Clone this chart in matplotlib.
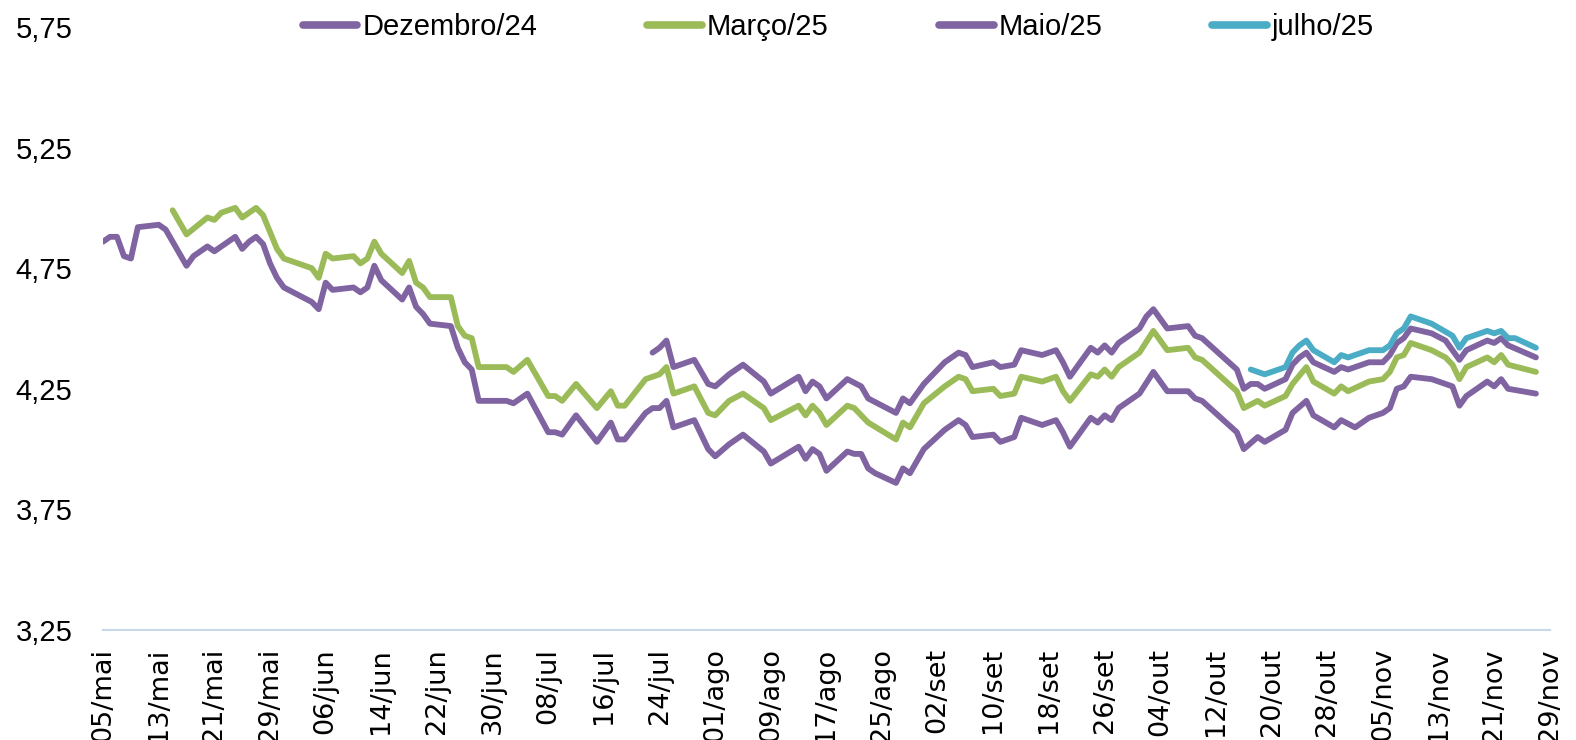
import numpy as np
import pandas as pd
import matplotlib
matplotlib.use('Agg')
import matplotlib.pyplot as plt

YEAR = '2023'

# Dezembro/24 contract
dez24_dates = ['05/05', '06/05', '07/05', '08/05', '09/05', '10/05', '13/05', '14/05', '15/05', '17/05', '18/05',
               '20/05', '21/05', '22/05', '24/05', '25/05', '26/05', '27/05', '28/05', '29/05', '30/05', '31/05',
               '04/06', '05/06', '06/06', '07/06', '10/06', '11/06', '12/06', '13/06', '14/06', '17/06', '18/06',
               '19/06', '20/06', '21/06', '24/06', '25/06', '26/06', '27/06', '28/06',
               '02/07', '03/07', '05/07', '08/07', '09/07', '10/07', '12/07', '15/07', '17/07', '18/07', '19/07',
               '22/07', '23/07', '24/07', '25/07', '26/07', '29/07', '31/07',
               '01/08', '03/08', '05/08', '08/08', '09/08', '13/08', '14/08', '15/08', '16/08', '17/08', '20/08',
               '21/08', '22/08', '23/08', '24/08', '27/08', '28/08', '29/08', '31/08',
               '03/09', '05/09', '06/09', '07/09', '10/09', '11/09', '13/09', '14/09', '17/09', '19/09', '20/09',
               '21/09', '24/09', '25/09', '26/09', '27/09', '28/09',
               '01/10', '03/10', '05/10', '08/10', '09/10', '10/10', '15/10', '16/10', '18/10', '19/10', '22/10',
               '23/10', '25/10', '26/10', '29/10', '30/10',
               '01/11', '03/11', '05/11', '06/11', '07/11', '08/11', '09/11', '12/11', '15/11', '16/11', '17/11',
               '20/11', '21/11', '22/11', '23/11', '27/11']
dez24 = [4.86, 4.88, 4.88, 4.80, 4.79, 4.92, 4.93, 4.91, 4.86, 4.76, 4.80,
         4.84, 4.82, 4.84, 4.88, 4.83, 4.86, 4.88, 4.85, 4.77, 4.71, 4.67,
         4.61, 4.58, 4.69, 4.66, 4.67, 4.65, 4.67, 4.76, 4.70, 4.62, 4.67,
         4.59, 4.56, 4.52, 4.51, 4.42, 4.36, 4.33, 4.20,
         4.20, 4.19, 4.23, 4.07, 4.07, 4.06, 4.14, 4.03, 4.11, 4.04, 4.04,
         4.15, 4.17, 4.17, 4.20, 4.09, 4.12, 4.00,
         3.97, 4.02, 4.06, 3.99, 3.94, 4.01, 3.96, 4.00, 3.98, 3.91, 3.99,
         3.98, 3.98, 3.92, 3.90, 3.86, 3.92, 3.90, 4.00,
         4.08, 4.12, 4.10, 4.05, 4.06, 4.03, 4.05, 4.13, 4.10, 4.12, 4.07,
         4.01, 4.13, 4.11, 4.14, 4.12, 4.17,
         4.23, 4.32, 4.24, 4.24, 4.21, 4.20, 4.07, 4.00, 4.05, 4.03, 4.08,
         4.15, 4.20, 4.14, 4.09, 4.12,
         4.09, 4.13, 4.15, 4.17, 4.25, 4.26, 4.30, 4.29, 4.26, 4.18, 4.22,
         4.28, 4.26, 4.29, 4.25, 4.23]

# Março/25 contract
mar25_dates = ['15/05', '17/05', '20/05', '21/05', '22/05', '24/05', '25/05', '27/05', '28/05', '29/05', '30/05', '31/05',
               '04/06', '05/06', '06/06', '07/06', '10/06', '11/06', '12/06', '13/06', '14/06', '17/06', '18/06',
               '19/06', '20/06', '21/06', '24/06', '25/06', '26/06', '27/06', '28/06',
               '02/07', '03/07', '05/07', '08/07', '09/07', '10/07', '12/07', '15/07', '17/07', '18/07', '19/07',
               '22/07', '23/07', '24/07', '25/07', '26/07', '29/07', '31/07',
               '01/08', '03/08', '05/08', '08/08', '09/08', '13/08', '14/08', '15/08', '16/08', '17/08', '20/08',
               '21/08', '23/08', '27/08', '28/08', '29/08', '31/08',
               '03/09', '05/09', '06/09', '07/09', '10/09', '11/09', '13/09', '14/09', '17/09', '19/09', '20/09',
               '21/09', '24/09', '25/09', '26/09', '27/09', '28/09',
               '01/10', '03/10', '05/10', '08/10', '09/10', '10/10', '15/10', '16/10', '18/10', '19/10', '22/10',
               '23/10', '25/10', '26/10', '29/10', '30/10', '31/10',
               '03/11', '05/11', '06/11', '07/11', '08/11', '09/11', '12/11', '14/11', '15/11', '16/11', '17/11',
               '20/11', '21/11', '22/11', '23/11', '27/11']
mar25 = [4.99, 4.89, 4.96, 4.95, 4.98, 5.00, 4.96, 5.00, 4.97, 4.90, 4.83, 4.79,
         4.75, 4.71, 4.81, 4.79, 4.80, 4.77, 4.79, 4.86, 4.81, 4.73, 4.78,
         4.69, 4.67, 4.63, 4.63, 4.51, 4.47, 4.46, 4.34,
         4.34, 4.32, 4.37, 4.22, 4.22, 4.20, 4.27, 4.17, 4.24, 4.18, 4.18,
         4.29, 4.30, 4.31, 4.34, 4.23, 4.26, 4.15,
         4.14, 4.20, 4.23, 4.17, 4.12, 4.18, 4.14, 4.18, 4.15, 4.10, 4.18,
         4.17, 4.11, 4.04, 4.11, 4.09, 4.19,
         4.26, 4.30, 4.29, 4.24, 4.25, 4.22, 4.23, 4.30, 4.28, 4.30, 4.24,
         4.20, 4.31, 4.30, 4.33, 4.30, 4.34,
         4.40, 4.49, 4.41, 4.42, 4.38, 4.37, 4.24, 4.17, 4.20, 4.18, 4.22,
         4.27, 4.34, 4.28, 4.23, 4.26, 4.24,
         4.28, 4.29, 4.32, 4.38, 4.39, 4.44, 4.41, 4.38, 4.35, 4.29, 4.34,
         4.38, 4.36, 4.39, 4.35, 4.32]

# Maio/25 contract
mai25_dates = ['23/07', '24/07', '25/07', '26/07', '29/07', '31/07',
               '01/08', '03/08', '05/08', '08/08', '09/08', '13/08', '14/08', '15/08', '16/08', '17/08', '20/08',
               '22/08', '23/08', '27/08', '28/08', '29/08', '31/08',
               '03/09', '05/09', '06/09', '07/09', '10/09', '11/09', '13/09', '14/09', '17/09', '19/09', '20/09',
               '21/09', '24/09', '25/09', '26/09', '27/09', '28/09',
               '01/10', '02/10', '03/10', '05/10', '08/10', '09/10', '10/10', '15/10', '16/10', '17/10', '18/10',
               '19/10', '22/10', '23/10', '24/10', '25/10', '26/10', '29/10', '30/10', '31/10',
               '03/11', '05/11', '06/11', '07/11', '08/11', '09/11', '12/11', '14/11', '16/11', '17/11', '20/11',
               '21/11', '22/11', '23/11', '27/11']
mai25 = [4.40, 4.42, 4.45, 4.34, 4.37, 4.27,
         4.26, 4.31, 4.35, 4.28, 4.23, 4.30, 4.24, 4.28, 4.26, 4.21, 4.29,
         4.26, 4.21, 4.15, 4.21, 4.19, 4.27,
         4.36, 4.40, 4.39, 4.34, 4.36, 4.34, 4.35, 4.41, 4.39, 4.41, 4.36,
         4.30, 4.42, 4.40, 4.43, 4.40, 4.44,
         4.50, 4.55, 4.58, 4.50, 4.51, 4.47, 4.46, 4.33, 4.25, 4.27, 4.27,
         4.25, 4.29, 4.35, 4.38, 4.40, 4.36, 4.32, 4.34, 4.33,
         4.36, 4.36, 4.39, 4.44, 4.46, 4.50, 4.48, 4.45, 4.37, 4.41, 4.45,
         4.44, 4.46, 4.43, 4.38]

# julho/25 contract
jul25_dates = ['17/10', '18/10', '19/10', '22/10', '23/10', '24/10', '25/10', '26/10', '29/10', '30/10', '31/10',
               '03/11', '05/11', '06/11', '07/11', '08/11', '09/11', '12/11', '15/11', '16/11', '17/11',
               '20/11', '21/11', '22/11', '23/11', '24/11', '27/11']
jul25 = [4.33, 4.32, 4.31, 4.34, 4.40, 4.43, 4.45, 4.41, 4.36, 4.39, 4.38,
         4.41, 4.41, 4.43, 4.48, 4.50, 4.55, 4.52, 4.47, 4.42, 4.46,
         4.49, 4.48, 4.49, 4.46, 4.46, 4.42]

series_names = ['Dezembro/24', 'Março/25', 'Maio/25', 'julho/25']
series_colors = ['#8064a2', '#9bbb59', '#8064a2', '#4bacc6']
month_abbr = ['jan', 'fev', 'mar', 'abr', 'mai', 'jun', 'jul', 'ago', 'set', 'out', 'nov', 'dez']


def to_dates(days):
    return pd.to_datetime([d + '/' + YEAR for d in days], format='%d/%m/%Y')


fig = plt.figure(figsize=(15.76, 7.40), dpi=100)
ax = fig.add_axes([0.0654, 0.1486, 0.918, 0.815])

all_series = [(dez24_dates, dez24), (mar25_dates, mar25), (mai25_dates, mai25), (jul25_dates, jul25)]
for (days, vals), name, color in zip(all_series, series_names, series_colors):
    ax.plot(to_dates(days), vals, color=color, lw=4.2, label=name,
            solid_joinstyle='round', solid_capstyle='round')

start = pd.Timestamp(YEAR + '-05-05')
end = pd.Timestamp(YEAR + '-11-29')
ax.set_xlim(start, end)
ticks = pd.date_range(start, end, freq='8D')
ax.set_xticks(ticks)
ax.set_xticklabels(['%02d/%s' % (t.day, month_abbr[t.month - 1]) for t in ticks],
                   rotation=90, ha='center', va='top', fontfamily='DejaVu Sans', fontsize=19.5)

yticks = np.arange(3.25, 5.76, 0.5)
ax.set_ylim(3.25, 5.75)
ax.set_yticks(yticks)
ax.set_yticklabels([('%.2f' % v).replace('.', ',') for v in yticks],
                   fontfamily='Liberation Sans', fontsize=21)

ax.tick_params(axis='both', length=0)
ax.tick_params(axis='x', pad=13)
ax.tick_params(axis='y', pad=22)

for side in ['left', 'right', 'top']:
    ax.spines[side].set_visible(False)
ax.spines['bottom'].set_color('#c9d7ea')
ax.spines['bottom'].set_linewidth(1.5)

leg = ax.legend(loc='center', bbox_to_anchor=(0.532, 0.963), bbox_transform=fig.transFigure,
                ncol=4, frameon=False, handlelength=1.88, handletextpad=0.17, columnspacing=3.77,
                prop={'family': 'Liberation Sans', 'size': 21})
for handle in leg.get_lines():
    handle.set_linewidth(5.5)

fig.savefig('out.png', dpi=100)
